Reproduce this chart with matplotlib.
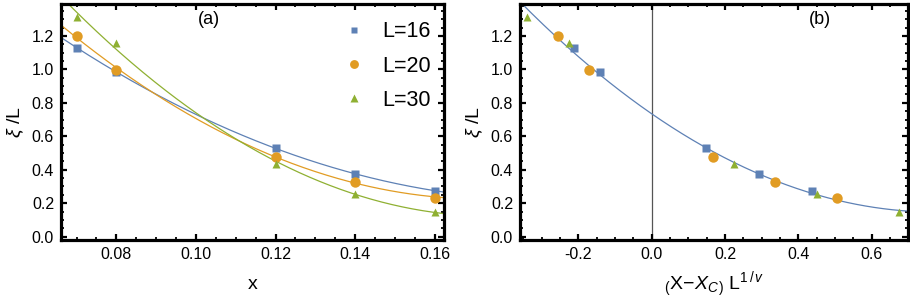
import numpy as np
import matplotlib
matplotlib.use("Agg")
import matplotlib.pyplot as plt
from matplotlib.ticker import MultipleLocator

plt.rcParams['font.family'] = ['Liberation Sans', 'DejaVu Sans']
plt.rcParams['mathtext.fontset'] = 'custom'
plt.rcParams['mathtext.rm'] = 'Liberation Sans'
plt.rcParams['mathtext.it'] = 'Liberation Sans:italic'

# ---- data ----
x_vals = [0.07, 0.08, 0.12, 0.14, 0.16]
y_L16 = [1.13, 0.985, 0.528, 0.375, 0.275]
y_L20 = [1.20, 0.997, 0.475, 0.329, 0.233]
y_L30 = [1.316, 1.157, 0.435, 0.255, 0.148]

xs_L16 = [-0.211, -0.141, 0.148, 0.294, 0.438]
xs_L20 = [-0.256, -0.171, 0.167, 0.336, 0.505]
xs_L30 = [-0.339, -0.225, 0.225, 0.450, 0.675]

labels = ["L=16", "L=20", "L=30"]
colors = ["#5E81B5", "#E19C24", "#8FB032"]
markers = ["s", "o", "^"]
msizes = [5.2, 7.5, 6.3]

fig = plt.figure(figsize=(9.10, 3.01), dpi=100)
W, H = 910, 301
axa = fig.add_axes([61 / W, 1 - 240 / H, (444 - 61) / W, (240 - 4) / H])
axb = fig.add_axes([520 / W, 1 - 240 / H, (908 - 520) / W, (240 - 4) / H])

def style(ax):
    for s in ax.spines.values():
        s.set_linewidth(2.3)
        s.set_color('black')
    ax.tick_params(which='both', direction='in', top=True, right=True,
                   labelsize=11.5, pad=5)
    ax.tick_params(which='major', length=4.5, width=1.6)
    ax.tick_params(which='minor', length=2.5, width=1.3)
    ax.set_ylim(-0.02, 1.391)
    ax.yaxis.set_major_locator(MultipleLocator(0.2))
    ax.yaxis.set_minor_locator(MultipleLocator(0.05))
    ax.yaxis.set_major_formatter(matplotlib.ticker.FormatStrFormatter('%.1f'))
    ax.set_ylabel(r'$\mathit{\xi}$ /L', fontsize=14, labelpad=4)

# panel (a)
style(axa)
axa.set_xlim(0.0661, 0.1623)
axa.xaxis.set_major_locator(MultipleLocator(0.02))
axa.xaxis.set_minor_locator(MultipleLocator(0.005))
axa.xaxis.set_major_formatter(matplotlib.ticker.FormatStrFormatter('%.2f'))
xf = np.linspace(0.0661, 0.1623, 300)
for ys, c, m, ms, lab in zip([y_L16, y_L20, y_L30], colors, markers, msizes, labels):
    p = np.polyfit(x_vals, ys, 2)
    axa.plot(xf, np.polyval(p, xf), color=c, lw=0.9, zorder=2)
    axa.plot(x_vals, ys, ls='none', marker=m, ms=ms, color=c, mec='none', zorder=3)
    axa.plot([], [], ls='none', marker=m, ms=ms * 0.85, color=c, mec='none', label=lab)
axa.set_xlabel('x', fontsize=14, labelpad=10)
axa.text(0.1032, 1.30, '(a)', fontsize=13, ha='center', va='center')
leg = axa.legend(loc='upper right', bbox_to_anchor=(1.01, 1.0), frameon=False,
                 fontsize=15.5, handletextpad=0.6, labelspacing=0.62,
                 borderaxespad=0.4, handlelength=1.4)

# panel (b)
style(axb)
axb.set_xlim(-0.359, 0.699)
axb.xaxis.set_major_locator(MultipleLocator(0.2))
axb.xaxis.set_minor_locator(MultipleLocator(0.05))
axb.xaxis.set_major_formatter(matplotlib.ticker.FormatStrFormatter('%.1f'))
axb.axvline(0, color='#555555', lw=0.9, zorder=1)
allx = np.concatenate([xs_L16, xs_L20, xs_L30])
ally = np.concatenate([y_L16, y_L20, y_L30])
pb = np.polyfit(allx, ally, 2)
xfb = np.linspace(-0.359, 0.699, 300)
axb.plot(xfb, np.polyval(pb, xfb), color=colors[0], lw=0.9, zorder=2)
for xs, ys, c, m, ms in zip([xs_L16, xs_L20, xs_L30], [y_L16, y_L20, y_L30],
                            colors, markers, msizes):
    axb.plot(xs, ys, ls='none', marker=m, ms=ms, color=c, mec='none', zorder=3)
axb.set_xlabel(r'$_{(}\mathrm{X}\!-\!\mathit{X}_{\mathit{C}}{}_{)}\ \mathrm{L}^{1\,/\,\mathit{v}}$',
               fontsize=14, labelpad=6)
axb.text(0.46, 1.30, '(b)', fontsize=13, ha='center', va='center')

fig.savefig('out.png', dpi=100)
